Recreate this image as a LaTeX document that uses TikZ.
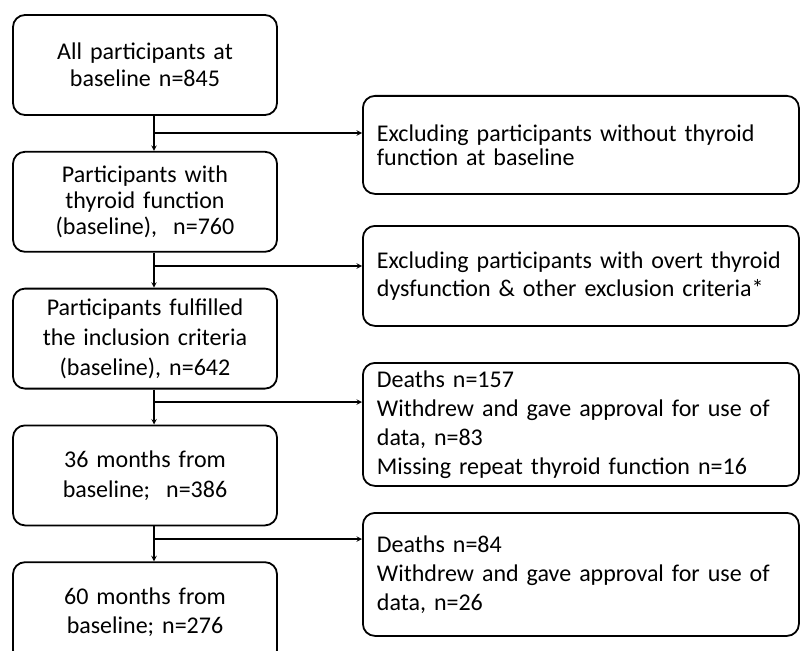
\documentclass[tikz,border=0pt]{standalone}
\usepackage{fontspec}
\setmainfont{Carlito}
\usetikzlibrary{arrows, positioning, calc}

\begin{document}
\begin{tikzpicture}[
    x=1pt, y=-1pt,
    node distance=35pt,
    box/.style={rectangle, rounded corners=12pt, minimum width=264pt, minimum height=100pt, text width=240pt, align=center, draw=black, line width=1.8pt},
    sidebox/.style={rectangle, rounded corners=12pt, minimum width=436pt, text width=408pt, inner xsep=14pt, inner ysep=3pt, align=left, anchor=north west, draw=black, line width=1.8pt},
    lh/.style={font=\fontsize{24}{#1}\selectfont},
    arrow/.style={line width=1.4pt,->,>=stealth}
]
    \clip (0,0) rectangle (802,650);

    \node (all) [box, lh=27] at (145,65) {All participants at\\baseline n=845};
    \node (thyr) [box, lh=26, below=of all] {Participants with\\thyroid function\\(baseline),~~n=760};
    \node (incl) [box, lh=30, below=of thyr] {Participants fulfilled\\the inclusion criteria\\(baseline), n=642};
    \node (m36) [box, lh=30, below=of incl] {36 months from\\baseline;~~n=386};
    \node (m60) [box, lh=29, below=of m36] {60 months from\\baseline; n=276};

    \node (excl1) [sidebox, lh=24, minimum height=98pt] at (362,95) {Excluding participants without thyroid\\function at baseline};
    \node (excl2) [sidebox, lh=28, minimum height=100pt] at (362,225) {Excluding participants with overt thyroid\\dysfunction \& other exclusion criteria*};
    \node (lost36) [sidebox, lh=29, minimum height=123pt] at (362,362) {Deaths n=157\\Withdrew and gave approval for use of\\data, n=83\\Missing repeat thyroid function n=16};
    \node (lost60) [sidebox, lh=29, minimum height=123pt] at (362,512) {Deaths n=84\\Withdrew and gave approval for use of\\data, n=26};

    % branch points on the trunk
    \coordinate (j1) at (154,133);
    \coordinate (j2) at (154,266);
    \coordinate (j3) at (154,402);
    \coordinate (j4) at (154,539);

    \draw [arrow] (j1 |- all.south) -- (j1 |- thyr.north);
    \draw [arrow] (j2 |- thyr.south) -- (j2 |- incl.north);
    \draw [arrow] (j3 |- incl.south) -- (j3 |- m36.north);
    \draw [arrow] (j4 |- m36.south) -- (j4 |- m60.north);

    \draw [arrow] (j1) -- (j1 -| excl1.west);
    \draw [arrow] (j2) -- (j2 -| excl2.west);
    \draw [arrow] (j3) -- (j3 -| lost36.west);
    \draw [arrow] (j4) -- (j4 -| lost60.west);
\end{tikzpicture}
\end{document}
